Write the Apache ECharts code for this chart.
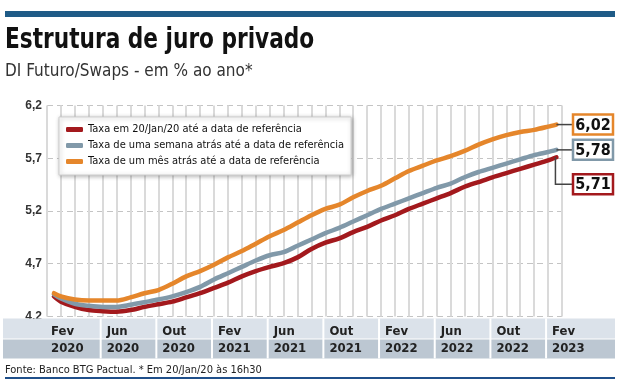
<!DOCTYPE html>
<html><head><meta charset="utf-8">
<script src="https://cdn.jsdelivr.net/npm/echarts@6/dist/echarts.min.js"></script>
<style>html,body{margin:0;padding:0;background:#fff}#c{width:625px;height:392px}</style>
</head><body><div id="c"></div>
<script>
// ---- data ----
const seriesNames = [
  'Taxa em 20/Jan/20 até a data de referência',
  'Taxa de uma semana atrás até a data de referência',
  'Taxa de um mês atrás até a data de referência'
];
// months after Fev/2020
const months = [0.5,1,2,3,4,5,6,7,8,9,10,11,12,13,14,15,16,17,18,19,20,21,22,23,24,25,26,27,28,29,30,31,32,33,34,35,36,36.6];
const redValues = [4.39,4.34,4.29,4.26,4.25,4.245,4.26,4.29,4.315,4.34,4.38,4.42,4.47,4.52,4.58,4.63,4.67,4.705,4.76,4.84,4.90,4.94,5.00,5.05,5.11,5.16,5.22,5.27,5.32,5.37,5.43,5.475,5.52,5.56,5.60,5.64,5.68,5.71];
const grayValues = [4.41,4.37,4.32,4.30,4.29,4.29,4.31,4.335,4.36,4.39,4.43,4.48,4.55,4.61,4.67,4.73,4.78,4.81,4.87,4.93,4.99,5.04,5.10,5.16,5.22,5.27,5.32,5.37,5.42,5.46,5.52,5.57,5.61,5.65,5.69,5.73,5.76,5.78];
const orangeValues = [4.42,4.39,4.36,4.35,4.35,4.35,4.38,4.42,4.45,4.51,4.58,4.63,4.69,4.76,4.82,4.89,4.96,5.02,5.09,5.16,5.22,5.26,5.33,5.39,5.44,5.51,5.58,5.63,5.68,5.72,5.77,5.83,5.88,5.92,5.95,5.97,6.00,6.02];
const tickMonth = ['Fev','Jun','Out','Fev','Jun','Out','Fev','Jun','Out','Fev'];
const tickYear = ['2020','2020','2020','2021','2021','2021','2022','2022','2022','2023'];
const yMin = 4.2, yMax = 6.2, yStep = 0.5;

// ---- styles ----
const NARROW = '"Liberation Sans Narrow","DejaVu Sans Condensed",sans-serif';
const colors = ['#a3191d', '#8199a9', '#e5862b'];
const allValues = [redValues, grayValues, orangeValues];
const labelShift = [27, 0, 0];

const chart = echarts.init(document.getElementById('c'), null, {renderer: 'canvas'});

const series = allValues.map((vals, i) => ({
  name: seriesNames[i],
  type: 'line',
  xAxisIndex: 0,
  data: months.map((m, j) => [m, vals[j]]),
  smooth: 0.3,
  showSymbol: false,
  lineStyle: {width: 4.5, color: colors[i], cap: 'round'},
  itemStyle: {color: colors[i]},
  z: 3 + i
}));

const option = {
  animation: false,
  backgroundColor: '#fff',
  grid: {left: 47, right: 63, top: 105.6, bottom: 75.6},
  xAxis: [{
    type: 'value', min: 0, max: 37, interval: 1,
    axisLine: {show: false}, axisTick: {show: false}, axisLabel: {show: false},
    splitLine: {show: true, lineStyle: {color: '#dadada', width: 2}},
    z: 0
  }, {
    type: 'value', min: 0, max: 37, interval: 1, position: 'bottom',
    axisLine: {show: false}, axisTick: {show: false},
    splitLine: {show: false},
    axisLabel: {
      show: true, margin: 7, align: 'left', verticalAlign: 'top',
      padding: [0, 0, 0, 4],
      formatter: v => {
        if (v % 4 !== 0) return '';
        const i = v / 4;
        return '{m|' + tickMonth[i] + '}\n{y|' + tickYear[i] + '}';
      },
      rich: {
        m: {fontFamily: NARROW, fontWeight: 'bold', fontSize: 13, color: '#222', lineHeight: 17},
        y: {fontFamily: NARROW, fontWeight: 'bold', fontSize: 13, color: '#222', lineHeight: 17}
      }
    },
    z: 50
  }],
  yAxis: {
    type: 'value', min: yMin, max: yMax, interval: yStep,
    axisLine: {show: false}, axisTick: {show: false},
    axisLabel: {
      margin: 5, fontFamily: '"Liberation Sans",Arial,sans-serif', fontWeight: 'bold', fontSize: 12, color: '#333',
      formatter: v => v.toFixed(1).replace('.', ',')
    },
    splitLine: {show: true, lineStyle: {color: '#c4c4c4', width: 1, type: [6, 4]}},
    z: 0
  },
  legend: {
    left: 59, top: 117, orient: 'vertical',
    backgroundColor: '#fff', borderColor: '#cfcfcf', borderWidth: 1,
    shadowBlur: 4, shadowColor: 'rgba(0,0,0,0.3)', shadowOffsetX: 1, shadowOffsetY: 1,
    padding: [7, 7, 8, 7], itemGap: 5, itemWidth: 17, itemHeight: 5,
    icon: 'roundRect',
    textStyle: {fontFamily: NARROW, fontSize: 11, color: '#111'},
    data: seriesNames,
    z: 20
  },
  series: series
};
chart.setOption(option);

// ---- decorations derived from axis positions ----
function px(x, y) { return chart.convertToPixel({xAxisIndex: 0, yAxisIndex: 0}, [x, y]); }
const g = [];
// header
g.push({type: 'rect', shape: {x: 5, y: 11, width: 610, height: 6}, style: {fill: '#1f5b87'}, z: 100});
g.push({type: 'text', x: 5, y: 41, scaleX: 0.86, style: {text: 'Estrutura de juro privado', font: 'bold 28px ' + NARROW, fill: '#111', verticalAlign: 'middle'}, z: 100});
g.push({type: 'text', x: 5, y: 72, style: {text: 'DI Futuro/Swaps - em % ao ano*', font: '17px ' + NARROW, fill: '#333', verticalAlign: 'middle'}, z: 100});
// axis band
const bottomY = px(0, yMin)[1];
const bandTop = bottomY + 2;
g.push({type: 'rect', shape: {x: 3, y: bandTop, width: 612, height: 20}, style: {fill: '#dbe2ea'}, z: 10});
g.push({type: 'rect', shape: {x: 3, y: bandTop + 21, width: 612, height: 19}, style: {fill: '#bcc7d2'}, z: 10});
for (let k = 4; k <= 36; k += 4) {
  const x = px(k, yMin)[0];
  g.push({type: 'rect', shape: {x: x - 3, y: bandTop, width: 2, height: 40}, style: {fill: '#fff'}, z: 11});
}
// footer
g.push({type: 'text', x: 5, y: 370, style: {text: 'Fonte: Banco BTG Pactual. * Em 20/Jan/20 às 16h30', font: '11px ' + NARROW, fill: '#222', verticalAlign: 'middle'}, z: 100});
g.push({type: 'rect', shape: {x: 5, y: 377, width: 610, height: 2}, style: {fill: '#1f4f8a'}, z: 100});
// end labels
const boxX = px(37, yMin)[0] + 11;
allValues.forEach((vals, i) => {
  const last = vals.length - 1;
  const p = px(months[last], vals[last]);
  const cy = p[1] + labelShift[i];
  const pts = labelShift[i] ? [[p[0] - 1, p[1]], [p[0] - 1, cy], [boxX, cy]] : [[p[0], p[1]], [boxX, cy]];
  g.push({type: 'polyline', shape: {points: pts}, style: {stroke: '#444', lineWidth: 1.5, fill: null}, z: 90});
  g.push({type: 'rect', shape: {x: boxX, y: cy - 10, width: 40, height: 20}, style: {fill: '#fff', stroke: colors[i], lineWidth: 2.5}, z: 95});
  g.push({type: 'text', x: boxX + 20, y: cy + 1, style: {text: vals[last].toFixed(2).replace('.', ','), font: 'bold 16px ' + NARROW, fill: '#111', align: 'center', verticalAlign: 'middle'}, z: 96});
});
chart.setOption({graphic: {elements: g}});
</script>
</body></html>
